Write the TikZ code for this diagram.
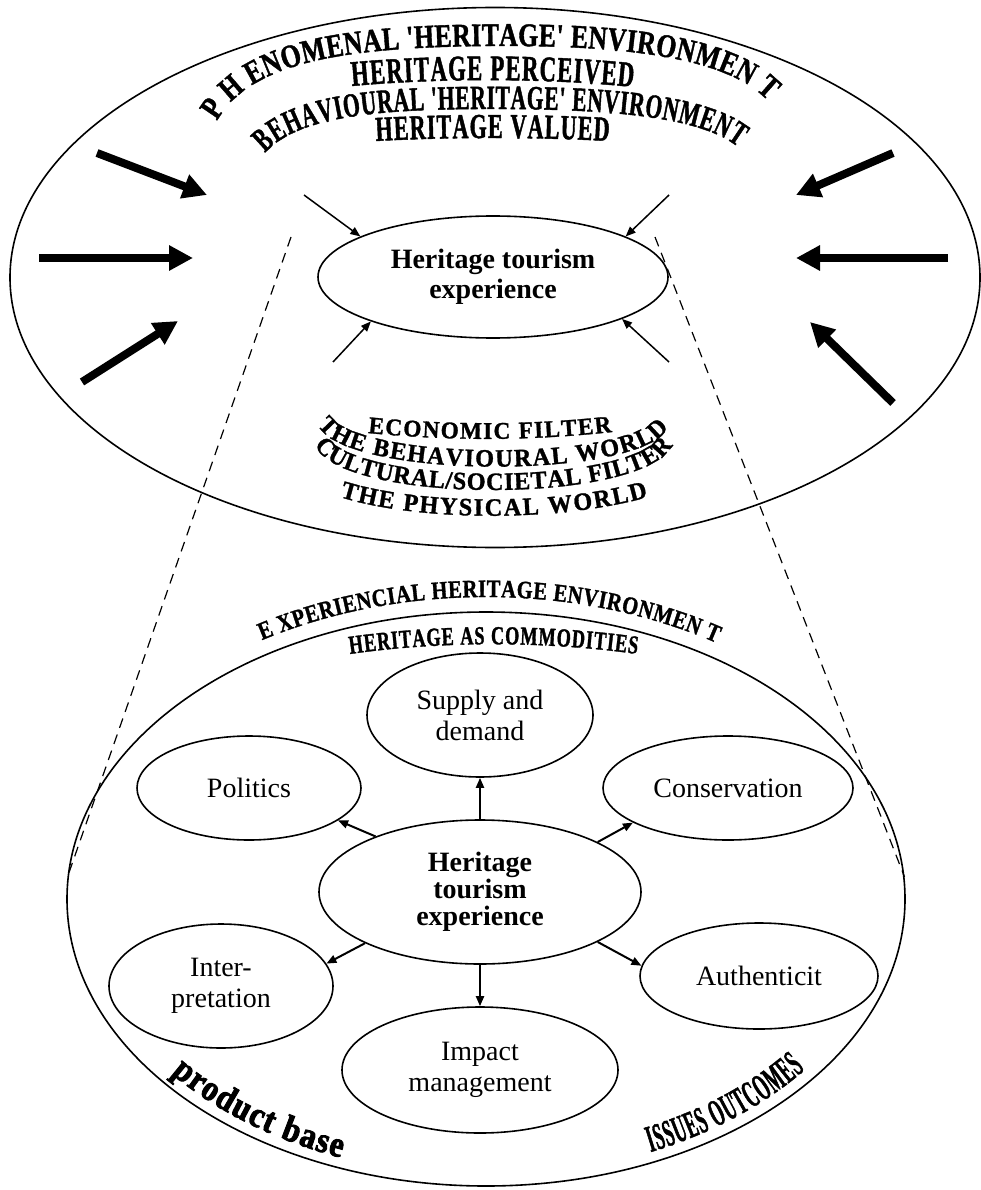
\documentclass[tikz,border=0pt]{standalone}
\usepackage{fontspec}
\setmainfont{Liberation Serif}
% narrowed, heavier faces for the curved headings
\newfontfamily\artA{Liberation Serif}[FakeStretch=0.78,FakeBold=1.2]
\newfontfamily\artB{Liberation Serif}[FakeStretch=0.63,FakeBold=1.2]
\newfontfamily\artC{Liberation Serif}[FakeStretch=0.97,FakeBold=1.2]
\newfontfamily\artD{Liberation Serif}[FakeStretch=0.82,FakeBold=1.2]
\newfontfamily\artE{Liberation Serif}[FakeStretch=0.70,FakeBold=1.2]
\newfontfamily\artF{Liberation Serif}[FakeStretch=0.45,FakeBold=1.2]
\newfontfamily\artG{Liberation Serif}[FakeStretch=0.88,FakeBold=2.5]
\usetikzlibrary{arrows.meta,decorations.text,shapes.geometric}

\begin{document}
\begin{tikzpicture}[x=1pt,y=-1pt]
\tikzset{
  frame/.style={ellipse, draw, line width=1.6pt, inner sep=0pt},
  bubble/.style={ellipse, draw, line width=1.6pt, inner sep=0pt, align=center,
                 font=\fontsize{28}{31}\selectfont},
  hub/.style={bubble, font=\bfseries\fontsize{28}{27}\selectfont},
  bigarrow/.style={line width=8pt, -{Triangle[length=24pt,width=24pt]}},
  thinarrow/.style={line width=1.5pt, -{Triangle[length=10pt,width=8pt]}},
  link/.style={line width=2pt, -{Triangle[length=10pt,width=8pt]}},
  guide/.style={line width=1.2pt, dash pattern=on 10pt off 7pt},
  curved/.style 2 args={decorate, decoration={text along path,
      text align={fit to path}, text={|#1|#2}}}
}
\useasboundingbox (0,0) rectangle (981,1190);
\fill[white] (0,0) rectangle (981,1190);

% ---------- upper field ----------
\node[frame, minimum width=970pt, minimum height=540pt] (field) at (495,277.5) {};
\node[hub, minimum width=350pt, minimum height=122pt,
      font=\bfseries\fontsize{28}{30}\selectfont] (core) at (493,277)
      {Heritage tourism\\experience};

% curved headings, top
\path[curved={\artA\bfseries\fontsize{33}{33}\selectfont}{P H ENOMENAL 'HERITAGE' ENVIRONMEN T}]
  (217,121) .. controls (250,62) and (345,47) .. (492,46)
            .. controls (635,45) and (730,60) .. (768,101);
\path[curved={\artB\bfseries\fontsize{36}{36}\selectfont}{HERITAGE PERCEIVED}]
  (352,86) .. controls (440,78) and (545,78) .. (633,87);
\path[curved={\artB\bfseries\fontsize{34}{34}\selectfont}{BEHAVIOURAL 'HERITAGE' ENVIRONMENT}]
  (265,153) .. controls (298,116) and (380,109) .. (492,109)
            .. controls (605,109) and (700,116) .. (738,147);
\path[curved={\artB\bfseries\fontsize{35}{35}\selectfont}{HERITAGE VALUED}]
  (376,141) .. controls (450,137) and (535,137) .. (609,141);

% curved headings, bottom of upper field
\path[curved={\artC\bfseries\fontsize{24}{24}\selectfont}{ECONOMIC FILTER}]
  (368,433) .. controls (450,441) and (530,441) .. (612,432);
\path[curved={\artC\bfseries\fontsize{25}{25}\selectfont}{THE BEHAVIOURAL WORLD}]
  (318,425) .. controls (345,480) and (640,480) .. (668,428);
\path[curved={\artC\bfseries\fontsize{25}{25}\selectfont}{CULTURAL/SOCIETAL FILTER}]
  (315,445) .. controls (340,505) and (645,505) .. (672,445);
\path[curved={\artC\bfseries\fontsize{25}{25}\selectfont}{THE PHYSICAL WORLD}]
  (340,497) .. controls (420,522) and (560,522) .. (648,497);

% heavy arrows pressing inwards
\coordinate (w1) at (97,153);  \coordinate (w1t) at (207,195);
\coordinate (w2) at (39,258);  \coordinate (w2t) at (193,258);
\coordinate (w3) at (82,382);  \coordinate (w3t) at (178,321);
\coordinate (e1) at (893,153); \coordinate (e1t) at (796,195);
\coordinate (e2) at (948,258); \coordinate (e2t) at (796,258);
\coordinate (e3) at (893,403); \coordinate (e3t) at (810,322);
\draw[bigarrow] (w1) -- (w1t);
\draw[bigarrow] (w2) -- (w2t);
\draw[bigarrow] (w3) -- (w3t);
\draw[bigarrow] (e1) -- (e1t);
\draw[bigarrow] (e2) -- (e2t);
\draw[bigarrow] (e3) -- (e3t);

% thin arrows onto the core
\coordinate (a1) at (304,195);
\coordinate (a2) at (333,362);
\coordinate (a3) at (669,195);
\coordinate (a4) at (669,362);
\draw[thinarrow] (a1) -- (core.163);
\draw[thinarrow] (a2) -- (core.200);
\draw[thinarrow] (a3) -- (core.17);
\draw[thinarrow] (a4) -- (core.342);

% ---------- lower field ----------
\node[frame, minimum width=838pt, minimum height=574pt] (base) at (486,899) {};

% dashed projection lines
\coordinate (g1) at (291,237);
\coordinate (g2) at (655,237);
\draw[guide] (g1) -- (base.177);
\draw[guide] (g2) -- (base.3);

% curved headings, lower field
\path[curved={\artD\bfseries\fontsize{25}{25}\selectfont}{E XPERIENCIAL HERITAGE ENVIRONMEN T}]
  plot[domain=239:302, samples=60, variable=\t] ({486+435*cos(\t)},{899+302*sin(\t)});
\path[curved={\artE\bfseries\fontsize{26}{26}\selectfont}{HERITAGE AS COMMODITIES}]
  (350,654) .. controls (440,641) and (545,641) .. (637,654);
\path[curved={\artG\bfseries\fontsize{36}{36}\selectfont}{product base}]
  plot[domain=141:111, samples=40, variable=\t] ({486+405*cos(\t)},{899+277*sin(\t)});
\path[curved={\artF\bfseries\fontsize{38}{38}\selectfont}{ISSUES OUTCOMES}]
  plot[domain=66:38, samples=40, variable=\t] ({486+405*cos(\t)},{899+277*sin(\t)});

% issue bubbles
\node[hub, minimum width=322pt, minimum height=144pt] (hub) at (480,892)
      {Heritage\\tourism\\experience};
\node[bubble, minimum width=226pt, minimum height=124pt] (supply) at (480,715) {Supply and\\demand};
\node[bubble, minimum width=224pt, minimum height=104pt] (politics) at (249,788) {Politics};
\node[bubble, minimum width=250pt, minimum height=104pt] (conservation) at (728,788) {Conservation};
\node[bubble, minimum width=224pt, minimum height=124pt] (interpretation) at (221,986) {Inter-\\pretation};
\node[bubble, minimum width=238pt, minimum height=106pt] (authenticity) at (759,976) {Authenticit};
\node[bubble, minimum width=276pt, minimum height=126pt] (impact) at (480,1070) {Impact\\management};

\draw[link] (hub.north) -- (supply.south);
\draw[link] (hub.152) -- (politics.340);
\draw[link] (hub.23) -- (conservation.200);
\draw[link] (hub.204) -- (interpretation.12);
\draw[link] (hub.337) -- (authenticity.175);
\draw[link] (hub.south) -- (impact.north);
\end{tikzpicture}
\end{document}
